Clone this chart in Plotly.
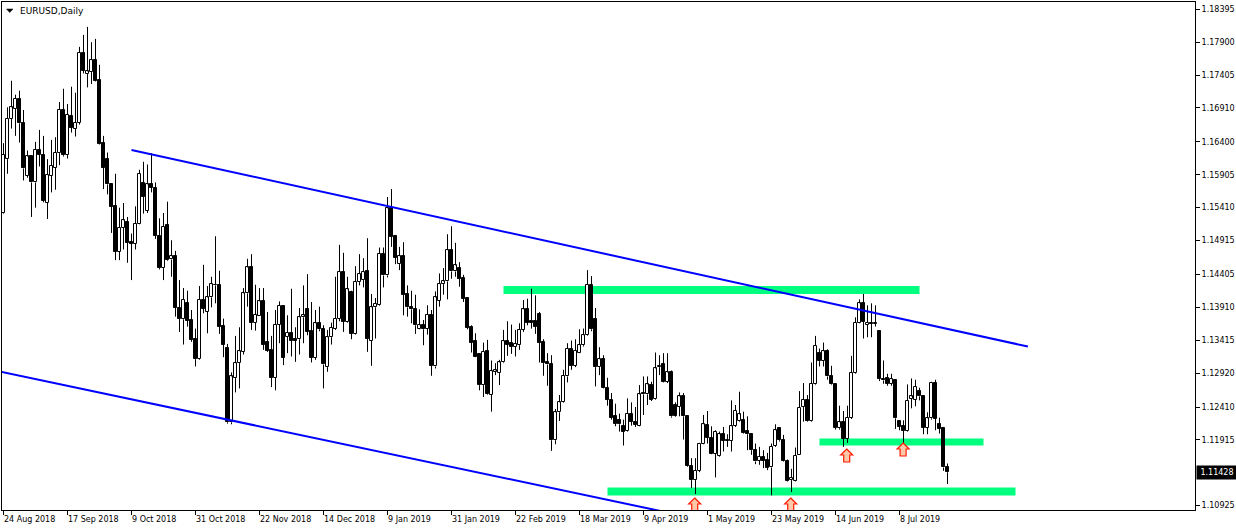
import plotly.graph_objects as go

# ---------------- data (EURUSD daily) ----------------
opens = [
    1.1533, 1.1614, 1.1675, 1.1690, 1.1705, 1.1668, 1.1589, 1.1618, 1.1579, 1.1628,
    1.1621, 1.1548, 1.1589, 1.1601, 1.1623, 1.1688, 1.1620, 1.1679, 1.1660, 1.1669,
    1.1774, 1.1742, 1.1745, 1.1763, 1.1733, 1.1638, 1.1614, 1.1577, 1.1543, 1.1475,
    1.1511, 1.1520, 1.1490, 1.1487, 1.1517, 1.1578, 1.1536, 1.1576, 1.1571, 1.1498,
    1.1450, 1.1515, 1.1463, 1.1468, 1.1390, 1.1373, 1.1397, 1.1372, 1.1343, 1.1313,
    1.1402, 1.1384, 1.1406, 1.1425, 1.1424, 1.1363, 1.1330, 1.1218, 1.1285, 1.1307,
    1.1324, 1.1412, 1.1451, 1.1368, 1.1378, 1.1400, 1.1339, 1.1327, 1.1285, 1.1365,
    1.1393, 1.1347, 1.1352, 1.1343, 1.1343, 1.1376, 1.1389, 1.1355, 1.1315, 1.1367,
    1.1358, 1.1301, 1.1346, 1.1359, 1.1374, 1.1444, 1.1369, 1.1414, 1.1351, 1.1429,
    1.1432, 1.1446, 1.1341, 1.1391, 1.1394, 1.1472, 1.1439, 1.1541, 1.1498, 1.1456,
    1.1468, 1.1411, 1.1391, 1.1388, 1.1359, 1.1364, 1.1359, 1.1379, 1.1302, 1.1401,
    1.1426, 1.1430, 1.1477, 1.1445, 1.1450, 1.1435, 1.1405, 1.1362, 1.1340, 1.1321,
    1.1274, 1.1326, 1.1259, 1.1294, 1.1292, 1.1308, 1.1340, 1.1337, 1.1332, 1.1334,
    1.1357, 1.1388, 1.1370, 1.1370, 1.1381, 1.1339, 1.1308, 1.1306, 1.1191, 1.1233,
    1.1248, 1.1287, 1.1329, 1.1303, 1.1323, 1.1334, 1.1349, 1.1425, 1.1373, 1.1301,
    1.1313, 1.1270, 1.1252, 1.1227, 1.1222, 1.1212, 1.1205, 1.1231, 1.1219, 1.1213,
    1.1262, 1.1260, 1.1274, 1.1253, 1.1301, 1.1306, 1.1279, 1.1293, 1.1244, 1.1241,
    1.1257, 1.1227, 1.1152, 1.1131, 1.1145, 1.1186, 1.1214, 1.1195, 1.1171, 1.1167,
    1.1200, 1.1191, 1.1190, 1.1213, 1.1220, 1.1221, 1.1205, 1.1200, 1.1176, 1.1160,
    1.1166, 1.1161, 1.1150, 1.1183, 1.1209, 1.1192, 1.1160, 1.1131, 1.1130, 1.1169,
    1.1241, 1.1252, 1.1220, 1.1275, 1.1323, 1.1310, 1.1325, 1.1288, 1.1276, 1.1209,
    1.1218, 1.1193, 1.1225, 1.1292, 1.1368, 1.1397, 1.1365, 1.1368, 1.1366, 1.1356,
    1.1283, 1.1285, 1.1276, 1.1282, 1.1220, 1.1213, 1.1205, 1.1253, 1.1252, 1.1265,
    1.1258, 1.1210, 1.1224, 1.1277, 1.1215, 1.1210, 1.1150,
]
highs = [
    1.1638, 1.1692, 1.1732, 1.1711, 1.1717, 1.1688, 1.1627, 1.1620, 1.1640, 1.1658,
    1.1649, 1.1614, 1.1643, 1.1647, 1.1700, 1.1720, 1.1697, 1.1723, 1.1714, 1.1783,
    1.1801, 1.1813, 1.1790, 1.1795, 1.1756, 1.1649, 1.1624, 1.1578, 1.1592, 1.1541,
    1.1548, 1.1527, 1.1502, 1.1543, 1.1598, 1.1610, 1.1606, 1.1623, 1.1579, 1.1525,
    1.1533, 1.1550, 1.1492, 1.1476, 1.1432, 1.1420, 1.1416, 1.1387, 1.1359, 1.1423,
    1.1455, 1.1423, 1.1437, 1.1498, 1.1446, 1.1374, 1.1336, 1.1293, 1.1348, 1.1361,
    1.1420, 1.1464, 1.1471, 1.1425, 1.1420, 1.1420, 1.1384, 1.1348, 1.1387, 1.1400,
    1.1394, 1.1379, 1.1419, 1.1361, 1.1390, 1.1424, 1.1441, 1.1399, 1.1387, 1.1392,
    1.1364, 1.1357, 1.1368, 1.1437, 1.1485, 1.1473, 1.1437, 1.1416, 1.1453, 1.1471,
    1.1465, 1.1495, 1.1411, 1.1405, 1.1481, 1.1481, 1.1557, 1.1569, 1.1500, 1.1482,
    1.1489, 1.1424, 1.1416, 1.1410, 1.1388, 1.1372, 1.1394, 1.1387, 1.1415, 1.1442,
    1.1450, 1.1501, 1.1513, 1.1488, 1.1459, 1.1440, 1.1406, 1.1364, 1.1352, 1.1322,
    1.1338, 1.1342, 1.1311, 1.1307, 1.1312, 1.1357, 1.1370, 1.1365, 1.1357, 1.1367,
    1.1402, 1.1404, 1.1419, 1.1409, 1.1384, 1.1343, 1.1322, 1.1319, 1.1238, 1.1259,
    1.1297, 1.1337, 1.1341, 1.1343, 1.1358, 1.1359, 1.1447, 1.1438, 1.1390, 1.1331,
    1.1319, 1.1285, 1.1262, 1.1246, 1.1231, 1.1222, 1.1254, 1.1248, 1.1241, 1.1274,
    1.1287, 1.1287, 1.1279, 1.1323, 1.1319, 1.1322, 1.1322, 1.1296, 1.1248, 1.1263,
    1.1262, 1.1228, 1.1164, 1.1164, 1.1187, 1.1229, 1.1235, 1.1212, 1.1206, 1.1204,
    1.1211, 1.1200, 1.1251, 1.1244, 1.1264, 1.1234, 1.1227, 1.1201, 1.1186, 1.1181,
    1.1176, 1.1172, 1.1186, 1.1215, 1.1210, 1.1199, 1.1162, 1.1148, 1.1180, 1.1265,
    1.1277, 1.1259, 1.1308, 1.1348, 1.1329, 1.1338, 1.1328, 1.1303, 1.1277, 1.1243,
    1.1235, 1.1243, 1.1318, 1.1376, 1.1403, 1.1411, 1.1394, 1.1397, 1.1394, 1.1357,
    1.1311, 1.1291, 1.1291, 1.1283, 1.1221, 1.1221, 1.1275, 1.1284, 1.1282, 1.1270,
    1.1259, 1.1233, 1.1279, 1.1282, 1.1225, 1.1211, 1.1156,
]
lows = [
    1.1532, 1.1592, 1.1660, 1.1649, 1.1639, 1.1582, 1.1586, 1.1527, 1.1541, 1.1603,
    1.1549, 1.1524, 1.1564, 1.1568, 1.1605, 1.1618, 1.1615, 1.1654, 1.1648, 1.1666,
    1.1743, 1.1722, 1.1727, 1.1731, 1.1636, 1.1569, 1.1561, 1.1503, 1.1462, 1.1462,
    1.1478, 1.1458, 1.1432, 1.1478, 1.1516, 1.1532, 1.1533, 1.1564, 1.1494, 1.1448,
    1.1432, 1.1461, 1.1437, 1.1377, 1.1354, 1.1335, 1.1362, 1.1339, 1.1302, 1.1312,
    1.1382, 1.1352, 1.1391, 1.1397, 1.1351, 1.1316, 1.1216, 1.1215, 1.1263, 1.1269,
    1.1320, 1.1392, 1.1357, 1.1356, 1.1378, 1.1327, 1.1324, 1.1271, 1.1266, 1.1337,
    1.1304, 1.1322, 1.1317, 1.1309, 1.1320, 1.1337, 1.1349, 1.1308, 1.1312, 1.1355,
    1.1269, 1.1294, 1.1335, 1.1357, 1.1370, 1.1354, 1.1368, 1.1343, 1.1350, 1.1424,
    1.1421, 1.1324, 1.1303, 1.1344, 1.1393, 1.1421, 1.1436, 1.1482, 1.1456, 1.1447,
    1.1379, 1.1377, 1.1367, 1.1351, 1.1358, 1.1334, 1.1350, 1.1288, 1.1299, 1.1392,
    1.1410, 1.1403, 1.1434, 1.1437, 1.1422, 1.1399, 1.1358, 1.1323, 1.1316, 1.1266,
    1.1256, 1.1259, 1.1234, 1.1289, 1.1274, 1.1307, 1.1318, 1.1321, 1.1317, 1.1327,
    1.1354, 1.1364, 1.1359, 1.1351, 1.1308, 1.1288, 1.1273, 1.1175, 1.1185, 1.1220,
    1.1247, 1.1278, 1.1297, 1.1301, 1.1322, 1.1332, 1.1348, 1.1355, 1.1272, 1.1289,
    1.1269, 1.1243, 1.1222, 1.1212, 1.1204, 1.1183, 1.1204, 1.1213, 1.1211, 1.1212,
    1.1229, 1.1244, 1.1250, 1.1252, 1.1289, 1.1278, 1.1277, 1.1225, 1.1226, 1.1227,
    1.1192, 1.1151, 1.1119, 1.1110, 1.1143, 1.1185, 1.1186, 1.1170, 1.1135, 1.1166,
    1.1174, 1.1181, 1.1174, 1.1211, 1.1219, 1.1201, 1.1176, 1.1169, 1.1155, 1.1154,
    1.1149, 1.1146, 1.1108, 1.1181, 1.1189, 1.1159, 1.1129, 1.1113, 1.1129, 1.1169,
    1.1219, 1.1219, 1.1219, 1.1274, 1.1302, 1.1302, 1.1282, 1.1274, 1.1207, 1.1207,
    1.1181, 1.1187, 1.1223, 1.1291, 1.1367, 1.1344, 1.1346, 1.1346, 1.1362, 1.1280,
    1.1276, 1.1273, 1.1273, 1.1208, 1.1206, 1.1181, 1.1204, 1.1239, 1.1242, 1.1251,
    1.1200, 1.1200, 1.1222, 1.1206, 1.1201, 1.1145, 1.1125,
]
closes = [
    1.1621, 1.1675, 1.1692, 1.1705, 1.1668, 1.1600, 1.1618, 1.1579, 1.1628, 1.1621,
    1.1551, 1.1590, 1.1604, 1.1624, 1.1688, 1.1620, 1.1681, 1.1661, 1.1669, 1.1774,
    1.1747, 1.1746, 1.1763, 1.1732, 1.1637, 1.1601, 1.1576, 1.1542, 1.1475, 1.1511,
    1.1522, 1.1488, 1.1487, 1.1517, 1.1592, 1.1557, 1.1576, 1.1571, 1.1499, 1.1450,
    1.1512, 1.1462, 1.1468, 1.1390, 1.1374, 1.1402, 1.1371, 1.1342, 1.1313, 1.1402,
    1.1389, 1.1406, 1.1426, 1.1424, 1.1362, 1.1335, 1.1218, 1.1287, 1.1307, 1.1325,
    1.1412, 1.1451, 1.1368, 1.1380, 1.1400, 1.1335, 1.1326, 1.1285, 1.1365, 1.1393,
    1.1315, 1.1353, 1.1341, 1.1341, 1.1376, 1.1379, 1.1354, 1.1315, 1.1367, 1.1358,
    1.1305, 1.1346, 1.1360, 1.1374, 1.1444, 1.1369, 1.1418, 1.1351, 1.1429, 1.1441,
    1.1444, 1.1344, 1.1391, 1.1396, 1.1472, 1.1439, 1.1540, 1.1497, 1.1466, 1.1468,
    1.1410, 1.1391, 1.1388, 1.1364, 1.1364, 1.1358, 1.1380, 1.1303, 1.1406, 1.1426,
    1.1430, 1.1477, 1.1445, 1.1454, 1.1434, 1.1404, 1.1360, 1.1338, 1.1317, 1.1274,
    1.1324, 1.1260, 1.1295, 1.1296, 1.1308, 1.1340, 1.1335, 1.1332, 1.1336, 1.1357,
    1.1388, 1.1368, 1.1368, 1.1362, 1.1338, 1.1307, 1.1305, 1.1191, 1.1233, 1.1248,
    1.1288, 1.1329, 1.1303, 1.1326, 1.1334, 1.1349, 1.1425, 1.1358, 1.1301, 1.1313,
    1.1270, 1.1252, 1.1225, 1.1216, 1.1215, 1.1204, 1.1231, 1.1219, 1.1214, 1.1260,
    1.1260, 1.1275, 1.1252, 1.1299, 1.1303, 1.1279, 1.1293, 1.1227, 1.1227, 1.1257,
    1.1227, 1.1152, 1.1131, 1.1145, 1.1186, 1.1215, 1.1195, 1.1171, 1.1204, 1.1200,
    1.1190, 1.1190, 1.1212, 1.1235, 1.1230, 1.1202, 1.1200, 1.1176, 1.1159, 1.1166,
    1.1160, 1.1149, 1.1181, 1.1206, 1.1191, 1.1160, 1.1130, 1.1134, 1.1168, 1.1240,
    1.1252, 1.1220, 1.1276, 1.1333, 1.1310, 1.1325, 1.1287, 1.1275, 1.1210, 1.1218,
    1.1193, 1.1225, 1.1292, 1.1368, 1.1397, 1.1369, 1.1368, 1.1366, 1.1368, 1.1283,
    1.1281, 1.1276, 1.1283, 1.1224, 1.1211, 1.1205, 1.1250, 1.1257, 1.1271, 1.1257,
    1.1210, 1.1224, 1.1277, 1.1223, 1.1208, 1.1150, 1.11428,
]

date_tick_bars = [0, 16, 32, 48, 64, 80, 96, 112, 128, 144, 160, 176, 192, 208, 224]
date_tick_labels = ["24 Aug 2018", "17 Sep 2018", "9 Oct 2018", "31 Oct 2018",
                    "22 Nov 2018", "14 Dec 2018", "9 Jan 2019", "31 Jan 2019",
                    "22 Feb 2019", "18 Mar 2019", "9 Apr 2019", "1 May 2019",
                    "23 May 2019", "14 Jun 2019", "8 Jul 2019"]
price_ticks = [1.18395, 1.17900, 1.17405, 1.16910, 1.16400, 1.15905, 1.15410, 1.14915,
               1.14405, 1.13910, 1.13415, 1.12920, 1.12410, 1.11915, 1.10925]
last_price = 1.11428

upper_trend_bar = [32.0, 256.1]
upper_trend_price = [1.16278, 1.13320]
lower_trend_bar = [-1.0, 175.0]
lower_trend_price = [1.12945, 1.10708]

zone_bar_start = [125, 204, 151]
zone_bar_end = [229, 245, 253]
zone_price_top = [1.14231, 1.11936, 1.11198]
zone_price_bottom = [1.14110, 1.11830, 1.11078]

arrow_bar = [172.8, 196.8, 210.8, 224.9]
arrow_price = [1.10935, 1.10935, 1.11673, 1.11763]

# ---------------- figure ----------------
FONT = "DejaVu Sans"
GREEN = "#00FF7F"
BLUE = "#0000FF"

n = len(closes)
idx = list(range(n))

up_x, up_base, up_h = [], [], []
dn_x, dn_base, dn_h = [], [], []
wick_x, wick_y = [], []
MIN_H = 0.00008
for i in idx:
    o, h, l, c = opens[i], highs[i], lows[i], closes[i]
    top, bot = max(o, c), min(o, c)
    hgt = max(top - bot, MIN_H)
    if c >= o:
        up_x.append(i); up_base.append(bot); up_h.append(hgt)
    else:
        dn_x.append(i); dn_base.append(bot); dn_h.append(hgt)
    if h > top:
        wick_x += [i, i, None]; wick_y += [top, h, None]
    if l < bot:
        wick_x += [i, i, None]; wick_y += [l, bot, None]

fig = go.Figure()

fig.add_trace(go.Scatter(x=wick_x, y=wick_y, mode="lines",
                         line=dict(color="black", width=1), hoverinfo="skip",
                         showlegend=False))
fig.add_trace(go.Bar(x=up_x, y=up_h, base=up_base, width=0.55,
                     marker=dict(color="white", line=dict(color="black", width=1)),
                     showlegend=False, hoverinfo="skip"))
fig.add_trace(go.Bar(x=dn_x, y=dn_h, base=dn_base, width=0.55,
                     marker=dict(color="black", line=dict(color="black", width=1)),
                     showlegend=False, hoverinfo="skip"))

# trend channel lines
fig.add_trace(go.Scatter(x=upper_trend_bar, y=upper_trend_price, mode="lines",
                         line=dict(color=BLUE, width=2), showlegend=False, hoverinfo="skip"))
fig.add_trace(go.Scatter(x=lower_trend_bar, y=lower_trend_price, mode="lines",
                         line=dict(color=BLUE, width=2), showlegend=False, hoverinfo="skip"))

shapes = []
for x0, x1, y0, y1 in zip(zone_bar_start, zone_bar_end, zone_price_bottom, zone_price_top):
    shapes.append(dict(type="rect", xref="x", yref="y", x0=x0, x1=x1, y0=y0, y1=y1,
                       fillcolor=GREEN, line=dict(width=0), layer="below"))

# hollow "up" arrows (pixel-sized, anchored at data positions)
ARROW_PATH = "M 0 7 L 6 1 L 3 1 L 3 -6 L -3 -6 L -3 1 L -6 1 Z"
for b, p in zip(arrow_bar, arrow_price):
    shapes.append(dict(type="path", xref="x", yref="y", xsizemode="pixel", ysizemode="pixel",
                       xanchor=b, yanchor=p, path=ARROW_PATH,
                       fillcolor="#FFC8A8", line=dict(color="#FF1A00", width=1.2),
                       layer="above"))

# small header triangle
W_PLOT, H_PLOT, L_M, T_M = 1193, 508, 2, 2
def px(xp):
    return (xp - L_M) / W_PLOT
def py(yp):
    return (T_M + H_PLOT - yp) / H_PLOT

shapes.append(dict(type="path", xref="paper", yref="paper",
                   path=f"M {px(6.5)} {py(9.0)} L {px(13.0)} {py(9.0)} L {px(9.75)} {py(12.5)} Z",
                   fillcolor="black", line=dict(color="black", width=0.5)))

annotations = []
annotations.append(dict(xref="paper", yref="paper", x=px(17.5), y=py(11), xanchor="left",
                        yanchor="middle", text="EURUSD,Daily", showarrow=False,
                        font=dict(family=FONT, size=9, color="black")))

for b, lab in zip(date_tick_bars, date_tick_labels):
    annotations.append(dict(xref="x", yref="paper", x=b, y=py(519), xanchor="left",
                            yanchor="middle", text=lab, showarrow=False, xshift=-2,
                            font=dict(family=FONT, size=8, color="black")))

annotations.append(dict(xref="paper", yref="y", x=1.0, y=last_price, xanchor="left",
                        yanchor="middle", text=f"{last_price:.5f}", showarrow=False,
                        bgcolor="black", borderpad=2, xshift=1, width=36,
                        font=dict(family=FONT, size=8, color="white")))

fig.update_layout(
    width=1236, height=528,
    margin=dict(l=L_M, r=41, t=T_M, b=18, pad=0, autoexpand=False),
    paper_bgcolor="white", plot_bgcolor="white",
    barmode="overlay", bargap=0,
    hovermode=False,
    showlegend=False,
    shapes=shapes,
    annotations=annotations,
    font=dict(family=FONT, size=8, color="black"),
    xaxis=dict(range=[-0.375, 297.875], tickvals=date_tick_bars, showticklabels=False,
               ticks="outside", ticklen=4, tickcolor="black", tickwidth=1,
               showgrid=False, zeroline=False, showline=True, linecolor="black",
               linewidth=1, mirror=True, fixedrange=True, automargin=False),
    yaxis=dict(side="right", range=[1.10860, 1.18505], tickvals=price_ticks,
               ticktext=[f"{v:.5f}" for v in price_ticks],
               ticks="outside", ticklen=4, tickcolor="black", tickwidth=1,
               tickfont=dict(family=FONT, size=8, color="black"),
               showgrid=False, zeroline=False, showline=True, linecolor="black",
               linewidth=1, mirror=True, fixedrange=True, automargin=False),
)

fig.write_html("out.html", config={"displayModeBar": False},
               post_script="document.body.style.margin='0';document.body.style.padding='0';")
